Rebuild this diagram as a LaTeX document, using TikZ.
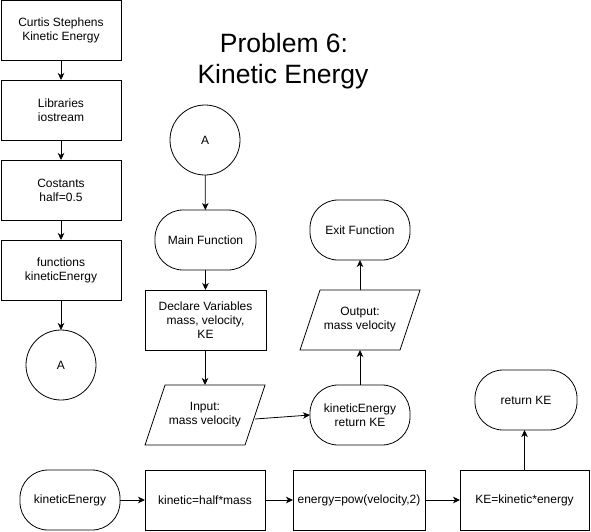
\documentclass[tikz,border=0pt]{standalone}
\usepackage{fontspec}
\setmainfont{Liberation Sans}
\usetikzlibrary{arrows.meta}
\begin{document}
\begin{tikzpicture}[x=1pt,y=-1pt,
  every node/.style={font=\fontsize{12}{14}\selectfont, align=center, inner sep=0pt, outer sep=0pt},
  ln/.style={line width=0.8pt},
  box/.style={draw, ln, minimum width=#1, minimum height=60pt},
  term/.style={draw, ln, rounded corners=28pt, minimum width=#1, minimum height=60pt},
  circ/.style={draw, ln, circle, minimum size=70pt},
  io/.style={minimum width=100pt, minimum height=60pt},
  arr/.style={ln, -{Stealth[length=7pt,width=6.5pt,inset=2pt]}},
  titlefont/.style={font=\fontsize{26.5}{30}\selectfont}
]
\path[use as bounding box] (0,0) rectangle (591,531);

% title
\node[titlefont, anchor=base] (t1) at (284,52) {Problem 6:};
\node[titlefont, anchor=base] (t2) at (283,83) {Kinetic Energy};

% left column
\node[box=120pt] (b1) at (61,30.5) {Curtis Stephens\\Kinetic Energy};
\node[box=120pt] (b2) at (61,110) {Libraries\\iostream};
\node[box=120pt] (b3) at (61,190) {Costants\\half=0.5};
\node[box=120pt] (b4) at (61,270) {functions\\kineticEnergy};
\node[circ] (a1) at (61,365) {A};
\draw[arr] (b1) -- (b2);
\draw[arr] (b2) -- (b3);
\draw[arr] (b3) -- (b4);
\draw[arr] (b4) -- (a1);

% middle flow
\node[circ] (a2) at (205,140) {A};
\node[term=101pt] (main) at (205.5,240) {Main Function};
\node[box=121pt] (decl) at (205.5,320) {Declare Variables\\mass, velocity,\\KE};
\node[io] (in) at (205,415) {Input:\\mass velocity};
\draw[ln] ([xshift=-40pt]in.north) -- ([xshift=60pt]in.north) -- ([xshift=40pt]in.south) -- ([xshift=-60pt]in.south) -- cycle;
\node[term=100pt] (ke) at (360,415) {kineticEnergy\\return KE};
\node[io] (out) at (360,320) {Output:\\mass velocity};
\draw[ln] ([xshift=-40pt]out.north) -- ([xshift=60pt]out.north) -- ([xshift=40pt]out.south) -- ([xshift=-60pt]out.south) -- cycle;
\node[term=100pt] (exit) at (360,230) {Exit Function};

\draw[arr] (a2) -- (main);
\draw[arr] (main) -- (main |- decl.north);
\draw[arr] (decl.south -| in.north) -- (in.north);
\draw[arr] ([yshift=-4pt]in.east) -- (ke.west);
\draw[arr] (ke) -- (out.south);
\draw[arr] (out.north) -- (exit);

% bottom row
\node[term=100pt] (kfun) at (70,500) {kineticEnergy};
\node[box=120pt] (kin) at (205,500) {kinetic=half*mass};
\node[box=132pt] (en) at (359,500) {energy=pow(velocity,2)};
\node[box=129pt] (keb) at (524.5,500) {KE=kinetic*energy};
\node[term=102pt] (ret) at (526,400) {return KE};
\draw[arr] (kfun) -- (kin);
\draw[arr] (kin) -- (en);
\draw[arr] (en) -- (keb);
\draw[arr] (keb.north) -- (keb.north |- ret.south);
\end{tikzpicture}
\end{document}
